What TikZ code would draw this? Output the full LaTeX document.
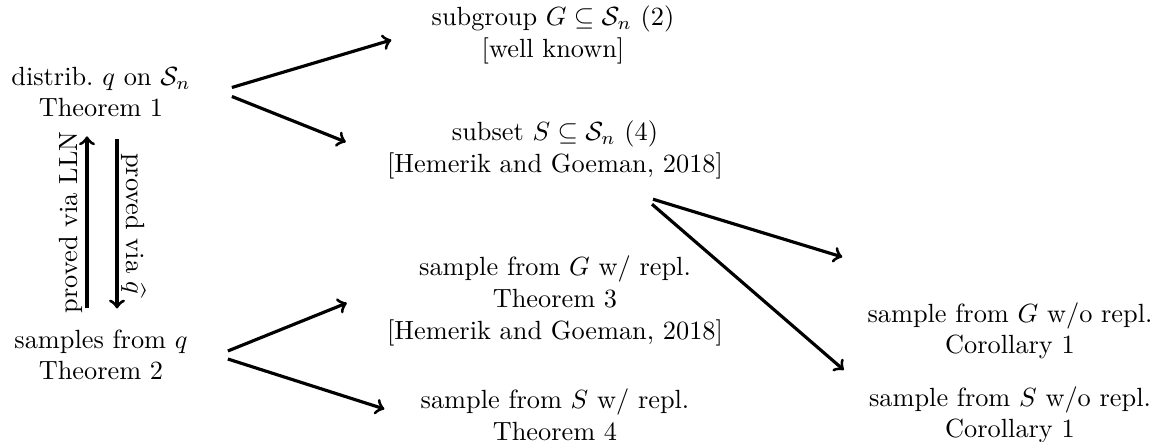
\documentclass[tikz,border=0pt]{standalone}
\usepackage{amsmath}
\usepackage{tikz}

\tikzset{
  res/.style={align=center},
  imp/.style={->, very thick},
  via/.style={midway, above, sloped, inner sep=1pt},
}

\begin{document}
\begin{tikzpicture}[x=0.38pt, y=-0.38pt]
  \useasboundingbox (0,0) rectangle (1158,442);
  \node[res] (dist) at (101,92) {distrib.\ $q$ on $\mathcal{S}_n$\\ Theorem 1};
  \node[res] (samp) at (101,355) {samples from $q$\\ Theorem 2};
  \node[res] (grp) at (553,35) {subgroup $G \subseteq \mathcal{S}_n$ (2)\\ {[well known]}};
  \node[res] (sub) at (555,150) {subset $S \subseteq \mathcal{S}_n$ (4)\\ {[Hemerik and Goeman, 2018]}};
  \node[res] (grprep) at (555,301) {sample from $G$ w/ repl.\\ Theorem 3\\ {[Hemerik and Goeman, 2018]}};
  \node[res] (subrep) at (555,415) {sample from $S$ w/ repl.\\ Theorem 4};
  \node[res] (grpnorep) at (1010,331) {sample from $G$ w/o repl.\\ Corollary 1};
  \node[res] (subnorep) at (1010,415) {sample from $S$ w/o repl.\\ Corollary 1};

  \draw[imp] ([shift={(32,-4.5)}]dist.east) -- ([shift={(-31,5)}]grp.west);
  \draw[imp] ([shift={(32,4.5)}]dist.east) -- ([shift={(-32,-8)}]sub.west);
  \draw[imp] ([shift={(31,-4)}]samp.east) -- ([shift={(-31,2)}]grprep.west);
  \draw[imp] ([shift={(31,4)}]samp.east) -- ([shift={(-27,-6)}]subrep.west);
  \draw[imp] ([shift={(98,11)}]sub.south) -- ([shift={(-16,-74)}]grpnorep.west);
  \draw[imp] ([shift={(97,16)}]sub.south) -- ([shift={(-16,-45)}]subnorep.west);
  \draw[imp] ([shift={(-14,-12)}]samp.north) -- node[via] {proved via LLN} ([shift={(-14,10)}]dist.south);
  \draw[imp] ([shift={(16,13)}]dist.south) -- node[via] {proved via $\widehat{q}$} ([shift={(16,-12)}]samp.north);
\end{tikzpicture}
\end{document}
